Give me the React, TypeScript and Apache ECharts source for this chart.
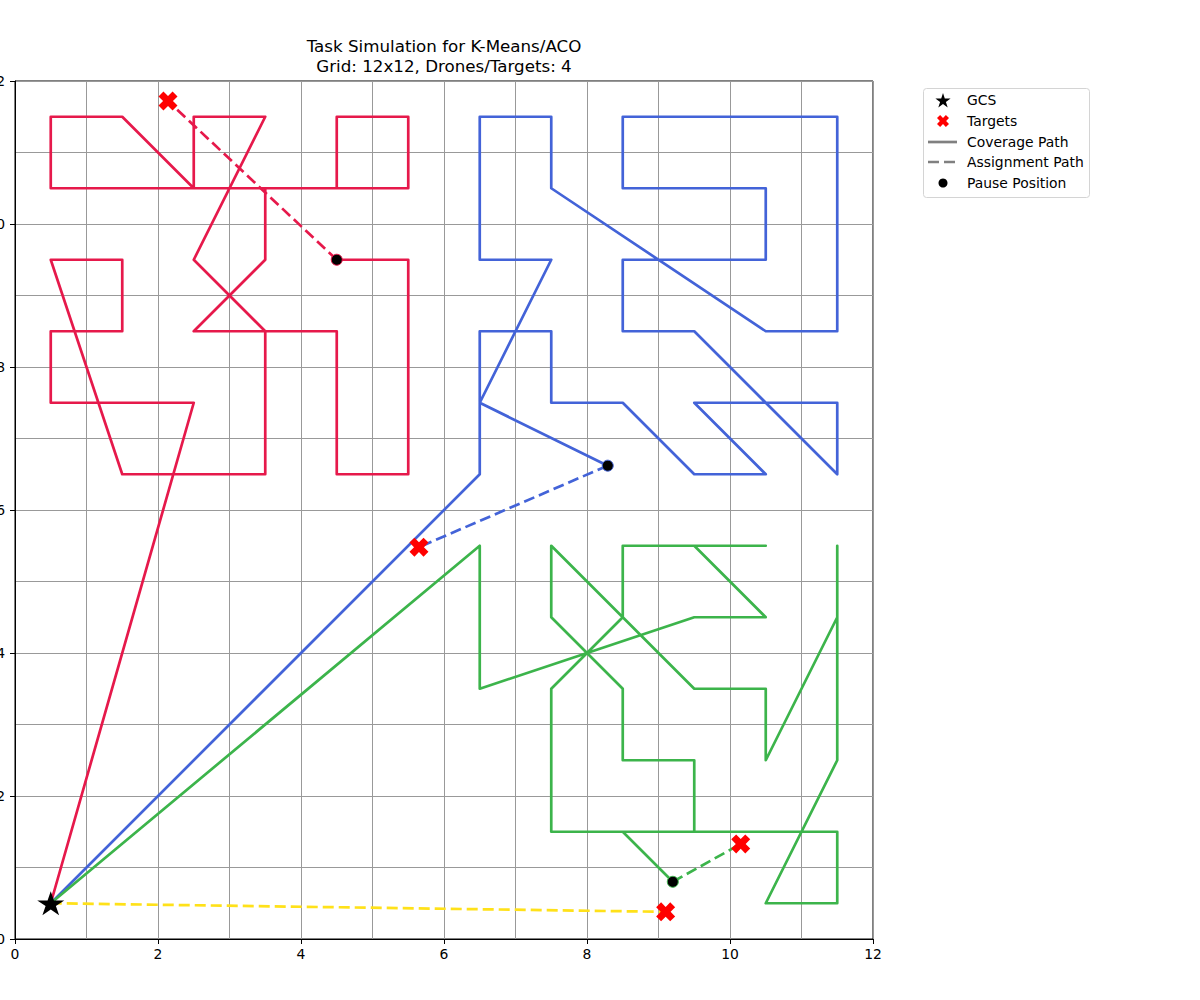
import React, { useEffect, useRef } from 'react';
import * as echarts from 'echarts';

// ---- data ----
const gcsPoint = [[0.5, 0.5]];
const targetPoints = [[2.14, 11.72], [5.65, 5.48], [10.15, 1.33], [9.1, 0.38]];

const redPath = [
  [0.5, 0.5], [2.5, 7.5], [0.5, 7.5], [0.5, 8.5], [1.5, 8.5], [1.5, 9.5], [0.5, 9.5],
  [1.5, 6.5], [3.5, 6.5], [3.5, 8.5], [2.5, 9.5], [3.5, 11.5], [2.5, 11.5], [2.5, 10.5],
  [1.5, 11.5], [0.5, 11.5], [0.5, 10.5], [4.5, 10.5], [4.5, 11.5], [5.5, 11.5], [5.5, 10.5],
  [3.5, 10.5], [3.5, 9.5], [2.5, 8.5], [4.5, 8.5], [4.5, 6.5], [5.5, 6.5], [5.5, 9.5], [4.5, 9.5],
];
const bluePath = [
  [0.5, 0.5], [6.5, 6.5], [6.5, 7.5], [7.5, 9.5], [6.5, 9.5], [6.5, 11.5], [7.5, 11.5],
  [7.5, 10.5], [10.5, 8.5], [11.5, 8.5], [11.5, 11.5], [8.5, 11.5], [8.5, 10.5], [10.5, 10.5],
  [10.5, 9.5], [8.5, 9.5], [8.5, 8.5], [9.5, 8.5], [11.5, 6.5], [11.5, 7.5], [9.5, 7.5],
  [10.5, 6.5], [9.5, 6.5], [8.5, 7.5], [7.5, 7.5], [7.5, 8.5], [6.5, 8.5], [6.5, 7.5], [8.29, 6.62],
];
const greenPath = [
  [0.5, 0.5], [6.5, 5.5], [6.5, 3.5], [9.5, 4.5], [10.5, 4.5], [9.5, 5.5], [10.5, 5.5],
  [9.5, 5.5], [8.5, 5.5], [8.5, 4.5], [7.5, 3.5], [7.5, 1.5], [9.5, 1.5], [9.5, 2.5],
  [8.5, 2.5], [8.5, 3.5], [7.5, 4.5], [7.5, 5.5], [8.5, 4.5], [9.5, 3.5], [10.5, 3.5],
  [10.5, 2.5], [11.5, 4.5], [11.5, 5.5], [11.5, 4.5], [11.5, 2.5], [10.5, 0.5], [11.5, 0.5],
  [11.5, 1.5], [8.5, 1.5], [9.2, 0.8],
];

const redAssign = [[4.5, 9.5], [2.14, 11.72]];
const blueAssign = [[8.29, 6.62], [5.65, 5.48]];
const greenAssign = [[9.2, 0.8], [10.15, 1.33]];
const yellowAssign = [[0.5, 0.5], [9.1, 0.38]];

const redPause = [[4.5, 9.5]];
const bluePause = [[8.29, 6.62]];
const greenPause = [[9.2, 0.8]];

const legendLabels = ['GCS', 'Targets', 'Coverage Path', 'Assignment Path', 'Pause Position'];
const titleLines = ['Task Simulation for K-Means/ACO', 'Grid: 12x12, Drones/Targets: 4'];

// ---- styles ----
const RED = '#e6194b';
const BLUE = '#4363d8';
const GREEN = '#3cb44b';
const YELLOW = '#ffe119';
const FONT = 'DejaVu Sans, Liberation Sans, sans-serif';
const DASH = [11, 5];

const STAR_PATH =
  'path://M100,0 L122.45,69.1 L195.1,69.1 L136.3,111.8 L158.8,180.9 L100,138.2 L41.2,180.9 L63.7,111.8 L4.9,69.1 L77.55,69.1 Z';
const X_BASE = [[0, 2.6], [2.6, 0], [5, 2.4], [7.4, 0], [10, 2.6], [7.6, 5], [10, 7.4], [7.4, 10], [5, 7.6], [2.6, 10], [0, 7.4], [2.4, 5]];
const X_PATH = 'path://M' + X_BASE.map((p) => p.join(',')).join(' L') + ' Z';

function starPoints(cx: number, cy: number, R: number) {
  const pts: number[][] = [];
  for (let i = 0; i < 10; i++) {
    const r = i % 2 === 0 ? R : R * 0.382;
    const a = (-90 + i * 36) * Math.PI / 180;
    pts.push([cx + r * Math.cos(a), cy + r * Math.sin(a)]);
  }
  return pts;
}
function xPoints(cx: number, cy: number, s: number) {
  return X_BASE.map(([x, y]) => [cx + (x - 5) * s / 10, cy + (y - 5) * s / 10]);
}

function lineSeries(data: number[][], color: string, dashed: boolean, z: number) {
  return {
    type: 'line',
    data,
    showSymbol: false,
    symbol: 'none',
    z,
    lineStyle: { color, width: 2.7, type: dashed ? DASH : 'solid', join: 'round', cap: 'butt', opacity: 1 },
    silent: true,
  };
}

function pauseSeries(data: number[][], color: string) {
  return {
    type: 'scatter',
    data,
    symbol: 'circle',
    symbolSize: 11,
    z: 10,
    itemStyle: { color: '#000', borderColor: color, borderWidth: 1, opacity: 1 },
  };
}

export default function App() {
  const ref = useRef<HTMLDivElement>(null);
  useEffect(() => {
    if (!ref.current) return;
    const chart = echarts.init(ref.current, undefined, { renderer: 'svg' });
    const L = { x: 923, y: 88, w: 166, h: 109 };
    const rows = [100, 121, 142, 162, 183];
    const graphic: any[] = [
      {
        type: 'rect',
        shape: { x: L.x + 0.5, y: L.y + 0.5, width: L.w, height: L.h, r: 3 },
        style: { fill: 'rgba(255,255,255,0.8)', stroke: '#d4d4d4', lineWidth: 1 },
        z: 100,
      },
      { type: 'polygon', shape: { points: starPoints(943, 101, 8) }, style: { fill: '#000' }, z: 101 },
      { type: 'polygon', shape: { points: xPoints(943, 121, 12) }, style: { fill: 'red' }, z: 101 },
      { type: 'line', shape: { x1: 928, y1: 142, x2: 957, y2: 142 }, style: { stroke: 'gray', lineWidth: 2.7 }, z: 101 },
      { type: 'line', shape: { x1: 928, y1: 162, x2: 957, y2: 162 }, style: { stroke: 'gray', lineWidth: 2.7, lineDash: DASH }, z: 101 },
      { type: 'circle', shape: { cx: 943, cy: 183, r: 4.5 }, style: { fill: '#000' }, z: 101 },
      ...legendLabels.map((t, i) => ({
        type: 'text',
        x: 967,
        y: rows[i],
        style: { text: t, fill: '#000', font: `13.9px ${FONT}`, textVerticalAlign: 'middle', verticalAlign: 'middle' },
        z: 101,
      })),
    ];

    const axisCommon = {
      type: 'value',
      min: 0,
      max: 12,
      interval: 2,
      axisLine: { show: true, lineStyle: { color: '#000', width: 1 } },
      axisTick: { show: true, inside: false, length: 5, lineStyle: { color: '#000', width: 1 } },
      splitLine: { show: true, lineStyle: { color: '#999', width: 1 } },
      minorTick: { show: false, splitNumber: 2 },
      minorSplitLine: { show: true, lineStyle: { color: '#999', width: 1 } },
    };

    chart.setOption({
      animation: false,
      backgroundColor: '#fff',
      title: {
        text: titleLines.join('\n'),
        left: 439,
        top: 31,
        textAlign: 'center',
        textStyle: { fontFamily: FONT, fontSize: 16.7, fontWeight: 'normal', color: '#000', lineHeight: 20 },
      },
      grid: {
        left: 15, top: 81, width: 858, height: 858,
        containLabel: false, outerBoundsMode: 'none',
        show: true, borderColor: '#000', borderWidth: 1, backgroundColor: 'transparent',
      },
      xAxis: {
        ...axisCommon,
        axisLabel: { fontFamily: FONT, fontSize: 13.9, color: '#000', margin: 8 },
      },
      yAxis: {
        ...axisCommon,
        axisLabel: { fontFamily: FONT, fontSize: 13.9, color: '#000', margin: 10 },
      },
      graphic,
      series: [
        lineSeries(redPath, RED, false, 3),
        lineSeries(bluePath, BLUE, false, 3),
        lineSeries(greenPath, GREEN, false, 3),
        lineSeries(redAssign, RED, true, 4),
        lineSeries(blueAssign, BLUE, true, 4),
        lineSeries(greenAssign, GREEN, true, 4),
        lineSeries(yellowAssign, YELLOW, true, 4),
        pauseSeries(redPause, RED),
        pauseSeries(bluePause, BLUE),
        pauseSeries(greenPause, GREEN),
        {
          type: 'scatter',
          name: 'Targets',
          data: targetPoints,
          symbol: X_PATH,
          symbolSize: 19,
          symbolKeepAspect: true,
          z: 11,
          itemStyle: { color: 'red', opacity: 1 },
        },
        {
          type: 'scatter',
          name: 'GCS',
          data: gcsPoint,
          symbol: STAR_PATH,
          symbolSize: [27, 25],
          symbolKeepAspect: true,
          z: 12,
          itemStyle: { color: '#000', opacity: 1 },
        },
      ],
    });
    return () => chart.dispose();
  }, []);
  return <div ref={ref} style={{ position: 'absolute', left: 0, top: 0, width: 1200, height: 1000 }} />;
}
